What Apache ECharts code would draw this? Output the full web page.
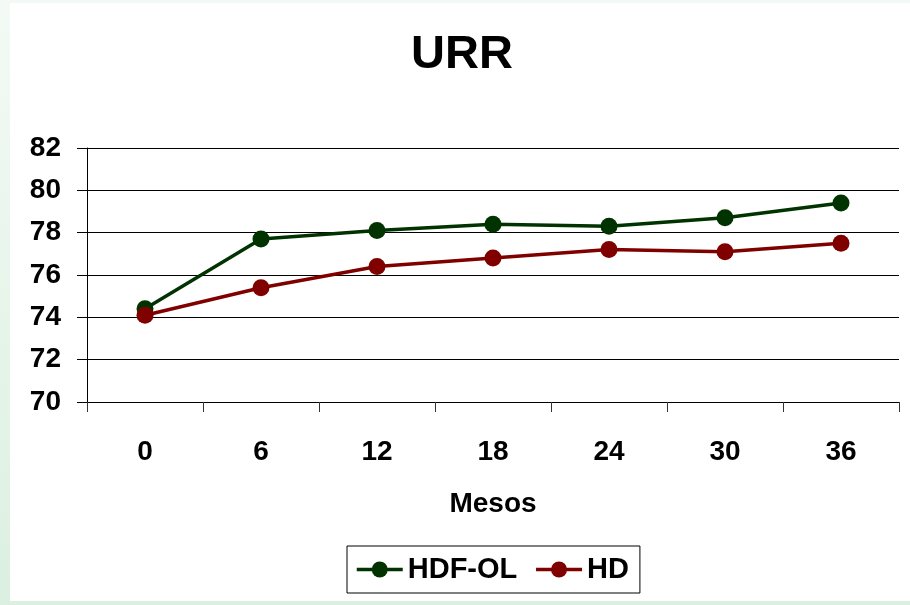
<!DOCTYPE html>
<html><head><meta charset="utf-8">
<script src="https://cdn.jsdelivr.net/npm/echarts@6/dist/echarts.min.js"></script>
<style>html,body{margin:0;padding:0;background:#fff}#c{width:910px;height:605px}</style>
</head><body><div id="c"></div>
<script>
const categories = ['0','6','12','18','24','30','36'];
const hdfol = [74.4, 77.7, 78.1, 78.4, 78.3, 78.7, 79.4];
const hd = [74.1, 75.4, 76.4, 76.8, 77.2, 77.1, 77.5];
const yTicks = [70, 72, 74, 76, 78, 80, 82];

const F = '"Liberation Sans", Arial, sans-serif';
const chart = echarts.init(document.getElementById('c'), null, {renderer:'canvas'});
chart.setOption({
  backgroundColor: '#fff',
  animation: false,
  graphic: [
    {type:'rect', left:0, top:0, shape:{width:10, height:605}, style:{fill:{type:'linear',x:0,y:0,x2:0,y2:1,colorStops:[{offset:0,color:'#f3faf5'},{offset:1,color:'#dbf0e1'}]}}, silent:true},
    {type:'rect', left:0, top:0, shape:{width:910, height:3}, style:{fill:'#f3faf5'}, silent:true},
    {type:'rect', left:0, top:601, shape:{width:910, height:4}, style:{fill:'#dcf0e2'}, silent:true}
  ],
  title: {text:'URR', left:406, top:27, textStyle:{fontFamily:F, fontSize:47, fontWeight:'bold', color:'#000'}},
  grid: {left:87, right:11, top:148, bottom:203, containLabel:false},
  legend: {
    left:347, top:546,
    padding:[9,11,9,8], itemGap:17,
    borderColor:'#000', borderWidth:1,
    itemWidth:46, itemHeight:20,
    lineStyle:{width:3.5},
    textStyle:{fontFamily:F, fontSize:29, fontWeight:'bold', color:'#000'},
    data:['HDF-OL','HD']
  },
  xAxis: {
    type:'category', data:categories, boundaryGap:true,
    name:'Mesos', nameLocation:'middle', nameGap:88,
    nameTextStyle:{fontFamily:F, fontSize:28, fontWeight:'bold', color:'#000'},
    axisLine:{lineStyle:{color:'#000', width:1}},
    axisTick:{show:true, length:10, lineStyle:{color:'#333'}},
    axisLabel:{fontFamily:F, fontSize:28, fontWeight:'bold', color:'#000', margin:36},
    splitLine:{show:false}
  },
  yAxis: {
    type:'value', min:70, max:82, interval:2,
    axisLine:{show:true, lineStyle:{color:'#000', width:1}},
    axisTick:{show:true, length:10, lineStyle:{color:'#000'}},
    axisLabel:{fontFamily:F, fontSize:28, fontWeight:'bold', color:'#000', margin:26,
      formatter: v => yTicks.includes(v) ? String(v) : ''},
    splitLine:{show:true, lineStyle:{color:'#000', width:1}}
  },
  series: [
    {name:'HDF-OL', type:'line', data:hdfol, color:'#003300', symbol:'circle', symbolSize:17,
     lineStyle:{width:3.5, color:'#003300'}, itemStyle:{color:'#003300'}, z:2},
    {name:'HD', type:'line', data:hd, color:'#800000', symbol:'circle', symbolSize:17,
     lineStyle:{width:3.5, color:'#800000'}, itemStyle:{color:'#800000'}, z:3}
  ]
});
</script></body></html>
